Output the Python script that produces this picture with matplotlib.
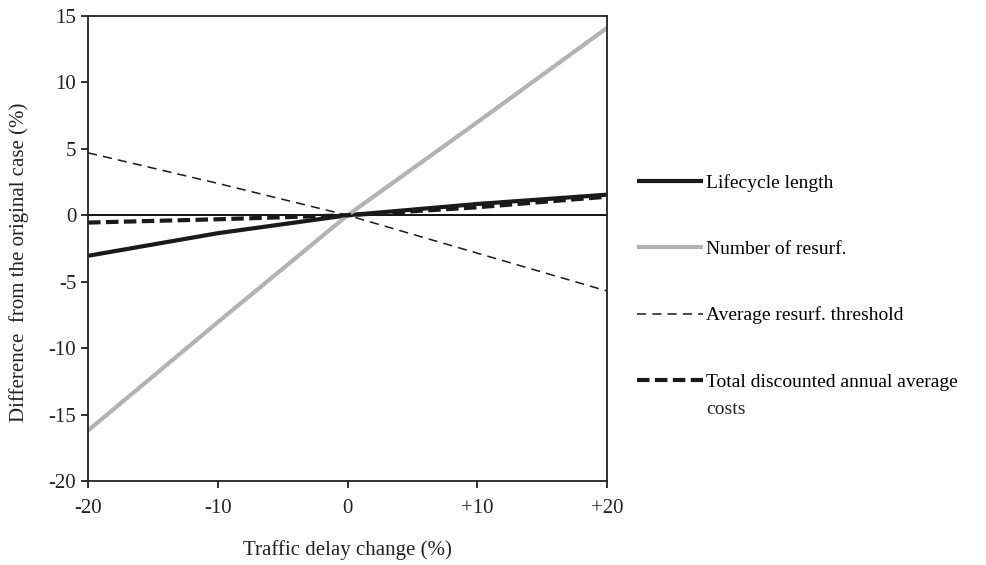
import matplotlib
matplotlib.use("Agg")
import matplotlib.pyplot as plt

plt.rcParams['font.family'] = ['Liberation Serif', 'DejaVu Serif']
plt.rcParams['axes.unicode_minus'] = False

# traffic delay change (%)
delay = [-20, -10, 0, 10, 20]
delay_labels = ['-20', '-10', '0', '+10', '+20']

# difference from original case (%)
lifecycle = [-3.05, -1.35, 0.0, 0.85, 1.55]
n_resurf = [-16.2, -8.05, 0.0, 7.0, 14.1]
avg_threshold = [4.7, 2.4, 0.0, -2.85, -5.7]
total_costs = [-0.55, -0.3, 0.0, 0.6, 1.4]

fig = plt.figure(figsize=(9.86, 5.65), dpi=100)
ax = fig.add_axes([0.0893, 0.1487, 0.5263, 0.823])

ax.axhline(0, color='black', linewidth=1.3, zorder=1)
ax.plot(delay, lifecycle, color='#1a1a1a', linewidth=3, solid_capstyle='butt',
        label='Lifecycle length')
ax.plot(delay, n_resurf, color='#b3b3b3', linewidth=3, solid_capstyle='butt',
        label='Number of resurf.')
ax.plot(delay, avg_threshold, color='#1a1a1a', linewidth=1.1, dashes=(6, 4),
        label='Average resurf. threshold')
ax.plot(delay, total_costs, color='#1a1a1a', linewidth=3, dashes=(3, 1.3),
        label='Total discounted annual average')

ax.set_xlim(-20, 20)
ax.set_ylim(-20, 15)
ax.set_xticks(delay)
ax.set_xticklabels(delay_labels)
ax.set_yticks(range(-20, 16, 5))
ax.tick_params(direction='out', length=5, width=1.3, labelsize=15, colors='#222222')
ax.tick_params(axis='x', pad=8)
for s in ax.spines.values():
    s.set_linewidth(1.3)
    s.set_color('#222222')

ax.set_xlabel('Traffic delay change (%)', fontsize=15, labelpad=16, color='#222222')
ax.set_ylabel('Difference  from the original case (%)', fontsize=15,
              color='#222222')
ax.yaxis.set_label_coords(-0.114, 0.47)

leg = fig.legend(loc='upper left', bbox_to_anchor=(0.638, 0.706), frameon=False,
                 fontsize=14, handlelength=3.4, handletextpad=0.15,
                 labelspacing=2.5, borderaxespad=0)

# second line of the last legend label, aligned under the first
fig.canvas.draw()
last = leg.get_texts()[-1]
bb = last.get_window_extent().transformed(fig.transFigure.inverted())
fig.text(bb.x0, bb.y0 - 0.018, 'costs', fontsize=14, va='top', ha='left',
         color='#222222')

fig.savefig('out.png', dpi=100)
